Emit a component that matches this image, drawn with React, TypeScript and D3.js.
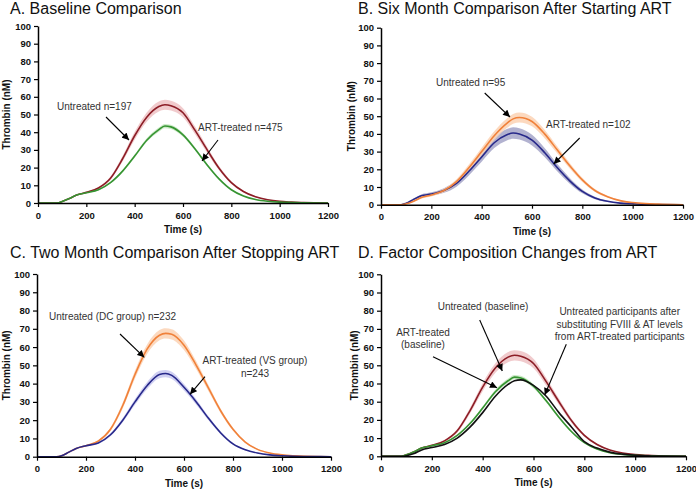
import { useEffect, useRef } from "react";
import * as d3 from "d3";

const W = 696;
const H = 490;

// time grid (s) shared by every curve
const times = [0, 50, 80, 100, 130, 160, 200, 250, 300, 350, 400, 450, 500, 525, 550, 600, 650, 700, 750, 800, 850, 900, 950, 1000, 1050, 1100, 1200];

// thrombin (nM)
const baseUntreated = [0, 0, 0, 0.8, 2.5, 4.5, 6, 8.5, 14, 25, 38, 48.5, 54.5, 55.5, 55, 51, 41, 30, 19.5, 11.5, 6.5, 3.5, 1.8, 0.9, 0.5, 0.2, 0];
const baseUntreatedCi = [0, 0, 0, 0.1, 0.2, 0.3, 0.4, 0.6, 1, 1.6, 2.2, 2.6, 2.8, 2.8, 2.8, 2.6, 2.2, 1.7, 1.2, 0.8, 0.5, 0.3, 0.2, 0.1, 0.1, 0, 0];
const baseArt = [0, 0, 0, 0.8, 2.5, 4.5, 5.8, 7.5, 11.5, 18, 26.5, 35.5, 41.5, 43.5, 43, 38.5, 30.5, 21.5, 13.5, 7.5, 4, 2, 1, 0.5, 0.3, 0.1, 0];
const baseArtCi = [0, 0, 0, 0.1, 0.1, 0.2, 0.2, 0.3, 0.5, 0.7, 0.9, 1.1, 1.2, 1.2, 1.2, 1.1, 0.9, 0.7, 0.5, 0.3, 0.2, 0.1, 0.1, 0, 0, 0, 0];

const sixUntreated = [0, 0, 0, 0.5, 2, 4, 5.5, 8, 13, 21, 30, 39, 46, 48.5, 49.3, 47, 40, 31, 22, 14, 8, 4.5, 2.3, 1.2, 0.6, 0.3, 0];
const sixUntreatedCi = [0, 0, 0, 0.2, 0.4, 0.6, 0.8, 1, 1.4, 1.8, 2.2, 2.5, 2.7, 2.8, 2.8, 2.7, 2.4, 2, 1.6, 1.2, 0.8, 0.5, 0.3, 0.2, 0.1, 0, 0];
const sixArt = [0, 0, 0, 0.8, 3, 5, 6, 8, 12, 19, 27, 35, 39.5, 40.5, 40, 36.5, 29.5, 21, 13.5, 7.5, 3.8, 1.9, 0.9, 0.5, 0.2, 0.1, 0];
const sixArtCi = [0, 0, 0, 0.3, 0.6, 0.8, 1, 1.3, 1.8, 2.3, 2.7, 3, 3.2, 3.2, 3.2, 3, 2.6, 2.1, 1.6, 1.1, 0.7, 0.4, 0.2, 0.1, 0.1, 0, 0];

const twoUntreated = [0, 0, 0, 0.5, 2.5, 4.5, 6, 8.5, 15, 28, 45, 59, 66.5, 67.5, 67, 61, 50, 37.5, 25, 15, 8, 4, 2, 1, 0.5, 0.2, 0];
const twoUntreatedCi = [0, 0, 0, 0.1, 0.2, 0.3, 0.4, 0.6, 1, 1.6, 2.2, 2.6, 2.8, 2.8, 2.8, 2.6, 2.2, 1.7, 1.2, 0.8, 0.5, 0.3, 0.2, 0.1, 0.1, 0, 0];
const twoArt = [0, 0, 0, 0.5, 2.5, 4.5, 6, 7.5, 12, 20, 30, 39, 45, 45.5, 44.5, 38, 30, 21, 13, 7, 3.8, 2, 1, 0.5, 0.2, 0.1, 0];
const twoArtCi = [0, 0, 0, 0.1, 0.2, 0.3, 0.4, 0.5, 0.8, 1.2, 1.6, 1.9, 2, 2, 2, 1.8, 1.5, 1.1, 0.8, 0.5, 0.3, 0.2, 0.1, 0, 0, 0, 0];

const substituted = [0, 0, 0, 0.3, 1.5, 3.5, 4.8, 6.5, 10, 16, 24, 33, 39.5, 41.5, 42, 39, 33, 24, 16, 8, 4.5, 2.3, 1.2, 0.6, 0.3, 0.1, 0];

const xTicks = [0, 200, 400, 600, 800, 1000, 1200];
const yTicks = [0, 10, 20, 30, 40, 50, 60, 70, 80, 90, 100];

const titles = [
  "A. Baseline Comparison",
  "B. Six Month Comparison After Starting ART",
  "C. Two Month Comparison After Stopping ART",
  "D. Factor Composition Changes from ART",
];

const FONT = "'Liberation Sans', Arial, sans-serif";

const C = {
  red: "#8c1d26", redBand: "#eec2c4",
  green: "#369432", greenBand: "#c3e6bd",
  orange: "#f0813a", orangeBand: "#fbd2b4",
  navy: "#27288a", navyBandB: "#a4a4c8", navyBandC: "#c8c8f0",
  black: "#111111",
};

type Series = { v: number[]; ci?: number[]; color: string; band?: string };
type Note = { lines: string[]; x: number; y: number; anchor: string; from: [number, number]; to: [number, number] };

// panel boxes in px, annotation positions in px
const panels: { box: number[]; title: [number, number]; yTitleX: number; series: Series[]; notes: Note[] }[] = [
  {
    box: [38, 328, 26, 203], title: [10, 14], yTitleX: 6,
    series: [
      { v: baseUntreated, ci: baseUntreatedCi, color: C.red, band: C.redBand },
      { v: baseArt, ci: baseArtCi, color: C.green, band: C.greenBand },
    ],
    notes: [
      { lines: ["Untreated n=197"], x: 57, y: 110, anchor: "start", from: [106, 117], to: [129, 140] },
      { lines: ["ART-treated n=475"], x: 198, y: 131, anchor: "start", from: [218, 140], to: [202, 161] },
    ],
  },
  {
    box: [381, 683, 27.7, 204.7], title: [358, 14], yTitleX: 351,
    series: [
      { v: sixArt, ci: sixArtCi, color: C.navy, band: C.navyBandB },
      { v: sixUntreated, ci: sixUntreatedCi, color: C.orange, band: C.orangeBand },
    ],
    notes: [
      { lines: ["Untreated n=95"], x: 436, y: 86, anchor: "start", from: [484.7, 93], to: [510, 117] },
      { lines: ["ART-treated n=102"], x: 546, y: 128, anchor: "start", from: [579.7, 138], to: [553.7, 164] },
    ],
  },
  {
    box: [37, 331, 274, 456.7], title: [10, 258], yTitleX: 6,
    series: [
      { v: twoUntreated, ci: twoUntreatedCi, color: C.orange, band: C.orangeBand },
      { v: twoArt, ci: twoArtCi, color: C.navy, band: C.navyBandC },
    ],
    notes: [
      { lines: ["Untreated (DC group) n=232"], x: 49, y: 320, anchor: "start", from: [120, 334], to: [144.3, 357.3] },
      { lines: ["ART-treated (VS group)", "n=243"], x: 255, y: 364, anchor: "middle", from: [205, 376.7], to: [190, 394.3] },
    ],
  },
  {
    box: [381, 686, 274.3, 456.3], title: [358, 258], yTitleX: 354,
    series: [
      { v: baseUntreated, ci: baseUntreatedCi, color: C.red, band: C.redBand },
      { v: baseArt, ci: baseArtCi, color: C.green, band: C.greenBand },
      { v: substituted, color: C.black },
    ],
    notes: [
      { lines: ["Untreated (baseline)"], x: 483, y: 310, anchor: "middle", from: [479.7, 320], to: [502.3, 371] },
      { lines: ["ART-treated", "(baseline)"], x: 423, y: 335.7, anchor: "middle", from: [433, 356.7], to: [497, 387.7] },
      {
        lines: ["Untreated participants after", "substituting FVIII & AT levels", "from ART-treated participants"],
        x: 619.7, y: 315, anchor: "middle", from: [566.3, 344.3], to: [544.7, 395],
      },
    ],
  },
];

export default function App() {
  const ref = useRef<SVGSVGElement>(null);

  useEffect(() => {
    const el = ref.current;
    if (!el) return;
    const svg = d3.select(el);
    svg.selectAll("*").remove();

    svg.append("defs").append("marker")
      .attr("id", "ah").attr("viewBox", "0 0 10 10").attr("refX", 10).attr("refY", 5)
      .attr("markerWidth", 8).attr("markerHeight", 7).attr("orient", "auto")
      .attr("markerUnits", "userSpaceOnUse")
      .append("path").attr("d", "M0,0L10,5L0,10z").attr("fill", "#000");

    panels.forEach((p, i) => {
      const [l, r, t, b] = p.box;
      const x = d3.scaleLinear().domain([0, 1200]).range([l, r]);
      const y = d3.scaleLinear().domain([0, 100]).range([b, t]);
      const g = svg.append("g");

      g.append("text").attr("x", p.title[0]).attr("y", p.title[1])
        .style("font-size", "16px").attr("fill", "#111").text(titles[i]);

      // bands first, then lines
      p.series.forEach((s) => {
        if (!s.ci) return;
        const area = d3.area<number>()
          .x((_, k) => x(times[k]))
          .y0((d, k) => y(Math.max(0, d - s.ci![k])))
          .y1((d, k) => y(d + s.ci![k]))
          .curve(d3.curveMonotoneX);
        g.append("path").attr("d", area(s.v)).attr("fill", s.band!).attr("opacity", 0.85);
      });
      p.series.forEach((s) => {
        const line = d3.line<number>().x((_, k) => x(times[k])).y((d) => y(d)).curve(d3.curveMonotoneX);
        g.append("path").attr("d", line(s.v)).attr("fill", "none")
          .attr("stroke", s.color).attr("stroke-width", 1.6);
      });

      // axes
      g.append("g").attr("transform", `translate(0,${b})`)
        .call(d3.axisBottom(x).tickValues(xTicks).tickFormat(d3.format("d")).tickSize(4).tickSizeOuter(0))
        .attr("font-family", FONT)
        .call((a) => a.select(".domain").attr("stroke-width", 1.5))
        .call((a) => a.selectAll(".tick line").attr("stroke-width", 1.2))
        .call((a) => a.selectAll(".tick text").attr("y", 9)
          .style("font-size", "9.5px").style("font-weight", "bold").attr("fill", "#111"));
      g.append("g").attr("transform", `translate(${l},0)`)
        .call(d3.axisLeft(y).tickValues(yTicks).tickFormat(d3.format("d")).tickSize(4).tickSizeOuter(0))
        .attr("font-family", FONT)
        .call((a) => a.select(".domain").attr("stroke-width", 1.5))
        .call((a) => a.selectAll(".tick line").attr("stroke-width", 1.2))
        .call((a) => a.selectAll(".tick text").attr("x", -7)
          .style("font-size", "9.5px").style("font-weight", "bold").attr("fill", "#111"));

      g.append("text").attr("x", (l + r) / 2).attr("y", b + 30).attr("text-anchor", "middle")
        .style("font-size", "10px").style("font-weight", "bold").attr("fill", "#111").text("Time (s)");
      g.append("text")
        .attr("transform", `translate(${p.yTitleX + 3.5},${(t + b) / 2}) rotate(-90)`)
        .attr("text-anchor", "middle")
        .style("font-size", "10px").style("font-weight", "bold").attr("fill", "#111").text("Thrombin (nM)");

      p.notes.forEach((n) => {
        const tx = g.append("text").attr("text-anchor", n.anchor)
          .style("font-size", "10px").attr("fill", "#333");
        n.lines.forEach((ln, k) => {
          tx.append("tspan").attr("x", n.x).attr("y", n.y + k * 12.5).text(ln);
        });
        g.append("line").attr("x1", n.from[0]).attr("y1", n.from[1])
          .attr("x2", n.to[0]).attr("y2", n.to[1])
          .attr("stroke", "#000").attr("stroke-width", 1.1).attr("marker-end", "url(#ah)");
      });
    });
  }, []);

  return (
    <svg
      ref={ref}
      width={W}
      height={H}
      style={{ position: "absolute", left: 0, top: 0, background: "#fff", fontFamily: FONT }}
    />
  );
}
